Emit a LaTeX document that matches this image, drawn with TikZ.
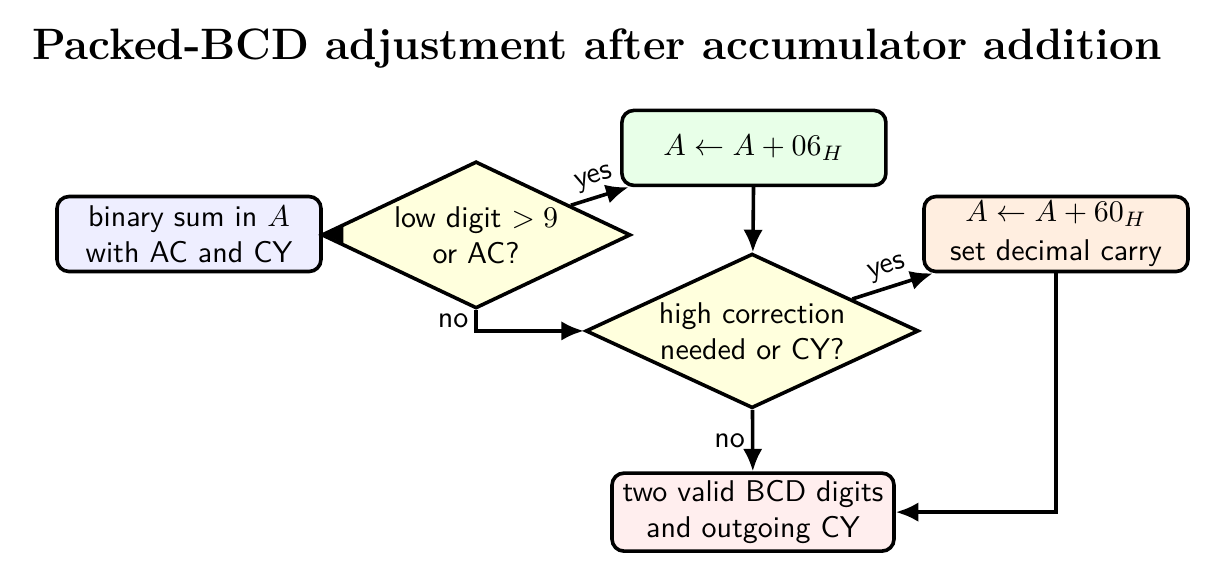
\documentclass[tikz,border=0pt]{standalone}
\usetikzlibrary{shapes.geometric,arrows.meta}
\definecolor{cBlue}{HTML}{EEEEFF}
\definecolor{cGreen}{HTML}{E8FFE8}
\definecolor{cOrange}{HTML}{FFEEE0}
\definecolor{cPink}{HTML}{FFEEEE}
\definecolor{cYellow}{HTML}{FFFFDD}
\tikzset{
  procbox/.style={draw, very thick, rounded corners=4pt, align=center,
    font=\sffamily, inner sep=1pt, minimum width=88pt, minimum height=25pt},
  decision/.style={draw, very thick, diamond, align=center, font=\sffamily,
    inner sep=-30pt},
  flow/.style={very thick, -{Latex[length=7.5pt,width=6.5pt]}},
  lbl/.style={font=\sffamily, inner sep=2pt}
}
\begin{document}
\begin{tikzpicture}[x=1pt,y=1pt]
\useasboundingbox (0,0) rectangle (405.67,-194);
\node[font=\fontsize{14.66}{18}\selectfont\bfseries] (title) at (199,-16) {Packed-BCD adjustment after accumulator addition};
\node[procbox, fill=cBlue] (sum) at (63,-78) {binary sum in $A$\\with AC and CY};
\node[decision, fill=cYellow, minimum width=103pt, minimum height=49pt] (low) at (158.7,-78.3) {low digit $>9$\\or AC?};
\node[procbox, fill=cGreen] (add6) at (251.3,-49.3) {$A \leftarrow A + 06_H$};
\node[decision, fill=cYellow, minimum width=111pt, minimum height=51.5pt] (high) at (250.7,-110.3) {high correction\\needed or CY?};
\node[procbox, fill=cOrange] (add60) at (352,-78) {$A \leftarrow A + 60_H$\\[1pt]set decimal carry};
\node[procbox, fill=cPink, minimum width=94pt, minimum height=26pt] (done) at (251,-170.7) {two valid BCD digits\\and outgoing CY};
\draw[flow] (sum) -- (low);
\draw[flow] (low) -- node[lbl, above, sloped] {yes} (add6);
\draw[flow] (low.south) |- node[lbl, pos=0.25, left] {no} (high.west);
\draw[flow] (add6) -- (high);
\draw[flow] (high) -- node[lbl, above, sloped] {yes} (add60);
\draw[flow] (high) -- node[lbl, midway, left] {no} (done);
\draw[flow] (add60.south) |- (done.east);
\end{tikzpicture}
\end{document}
